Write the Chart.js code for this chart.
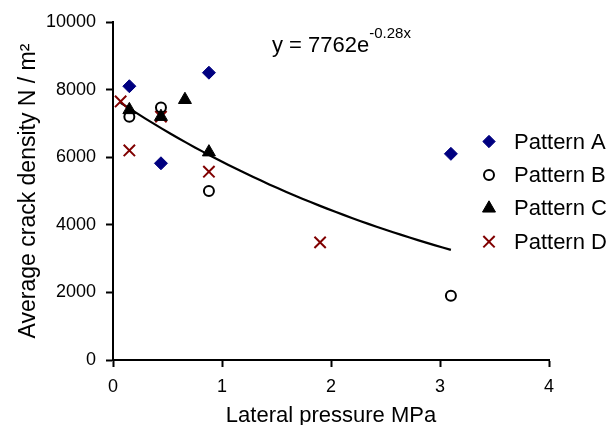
<!DOCTYPE html>
<html>
<head>
<meta charset="utf-8">
<script src="https://cdn.jsdelivr.net/npm/chart.js@4/dist/chart.umd.min.js"></script>
<style>
  html, body { margin: 0; padding: 0; background: #fff; }
  #wrap { width: 611px; height: 425px; }
</style>
</head>
<body>
<div id="wrap"><canvas id="myChart" width="611" height="425"></canvas></div>
<script>
// data
const patternA_x = [0.15, 0.44, 0.88, 3.1];
const patternA_y = [8100, 5820, 8500, 6100];
const patternB_x = [0.15, 0.44, 0.88, 3.1];
const patternB_y = [7200, 7470, 5000, 1900];
const patternC_x = [0.15, 0.44, 0.66, 0.88];
const patternC_y = [7400, 7200, 7700, 6150];
const patternD_x = [0.07, 0.15, 0.44, 0.88, 1.9];
const patternD_y = [7650, 6200, 7200, 5570, 3480];

const xTicks = [0, 1, 2, 3, 4];
const yTicks = [0, 2000, 4000, 6000, 8000, 10000];

// exponential trendline shown on the chart: y = 7762e^-0.28x
const fitA = 7762;
const fitB = -0.28;
const fitFrom = 0.07;
const fitTo = 3.1;

function toPoints(xs, ys) {
  return xs.map((x, i) => ({x: x, y: ys[i]}));
}

let trend = [];
for (let i = 0; i <= 40; i++) {
  let x = fitFrom + (fitTo - fitFrom) * i / 40;
  trend.push({x: x, y: fitA * Math.exp(fitB * x)});
}

const FONT = "'Liberation Sans', Arial, sans-serif";

const series = [
  {label: 'Pattern A', data: toPoints(patternA_x, patternA_y), pointStyle: 'rectRot', pointRadius: 6.5,
   backgroundColor: '#000080', borderColor: '#000080', borderWidth: 1},
  {label: 'Pattern B', data: toPoints(patternB_x, patternB_y), pointStyle: 'circle', pointRadius: 5,
   backgroundColor: 'rgba(0,0,0,0)', borderColor: '#000000', borderWidth: 2},
  {label: 'Pattern C', data: toPoints(patternC_x, patternC_y), pointStyle: 'triangle', pointRadius: 7.5,
   backgroundColor: '#000000', borderColor: '#000000', borderWidth: 1},
  {label: 'Pattern D', data: toPoints(patternD_x, patternD_y), pointStyle: 'crossRot', pointRadius: 8,
   backgroundColor: '#800000', borderColor: '#800000', borderWidth: 2}
];

// legend + equation drawn on top
const extras = {
  id: 'extras',
  afterDraw(chart) {
    const ctx = chart.ctx;
    const area = chart.chartArea;
    ctx.save();
    ctx.fillStyle = '#000';
    ctx.textBaseline = 'alphabetic';
    ctx.textAlign = 'left';
    ctx.font = '22px ' + FONT;
    let eqX = area.left + 159, eqY = area.top + 30;
    ctx.fillText('y = 7762e', eqX, eqY);
    let w = ctx.measureText('y = 7762e').width;
    ctx.font = '15px ' + FONT;
    ctx.fillText('-0.28x', eqX + w, eqY - 14);

    // legend
    let lx = area.right - 60, ly = area.top + 119.5;
    series.forEach((s, i) => {
      let y = ly + i * 33.4;
      ctx.fillStyle = s.backgroundColor;
      ctx.strokeStyle = s.borderColor;
      ctx.lineWidth = s.borderWidth;
      Chart.helpers.drawPoint(ctx, {pointStyle: s.pointStyle, radius: s.pointRadius * (i == 0 ? 0.95 : 1), rotation: 0, borderWidth: s.borderWidth}, lx, y);
      ctx.fillStyle = '#000';
      ctx.font = '22px ' + FONT;
      ctx.textBaseline = 'middle';
      ctx.fillText(s.label, lx + 25, y + 1);
    });
    ctx.restore();
  }
};

const myChart = document.getElementById('myChart');

let scatter = new Chart(myChart, {
  type: 'scatter',
  data: {
    datasets: [
      {label: 'trend', data: trend, showLine: true, pointRadius: 0, borderColor: '#000', borderWidth: 2.2,
       tension: 0, fill: false, order: 10}
    ].concat(series.map(s => Object.assign({showLine: false, pointHoverRadius: s.pointRadius}, s)))
  },
  options: {
    responsive: false,
    animation: false,
    events: [],
    layout: {padding: {top: 22, right: 62, bottom: 0, left: 0}},
    plugins: {
      legend: {display: false},
      tooltip: {enabled: false}
    },
    scales: {
      x: {
        type: 'linear',
        min: 0, max: 4,
        afterFit: s => { s.height = 65; },
        afterBuildTicks: s => { s.ticks = xTicks.map(v => ({value: v})); },
        ticks: {color: '#000', font: {family: FONT, size: 18}, padding: 9, callback: v => String(v)},
        grid: {drawOnChartArea: false, color: '#000', tickLength: 7, tickWidth: 2},
        border: {color: '#000', width: 2},
        title: {display: true, text: 'Lateral pressure MPa', color: '#000',
                font: {family: FONT, size: 22, lineHeight: 1}, padding: {top: 0, bottom: -2}}
      },
      y: {
        type: 'linear',
        min: 0, max: 10000,
        afterFit: s => { s.width = 113; },
        afterBuildTicks: s => { s.ticks = yTicks.map(v => ({value: v})); },
        ticks: {color: '#000', font: {family: FONT, size: 18}, padding: 10, callback: v => String(v)},
        grid: {drawOnChartArea: false, color: '#000', tickLength: 7, tickWidth: 2},
        border: {color: '#000', width: 2},
        title: {display: true, text: 'Average crack density N / m²', color: '#000',
                font: {family: FONT, size: 23, lineHeight: 1}, padding: {top: 17, bottom: 0}}
      }
    }
  },
  plugins: [extras]
});
</script>
</body>
</html>
